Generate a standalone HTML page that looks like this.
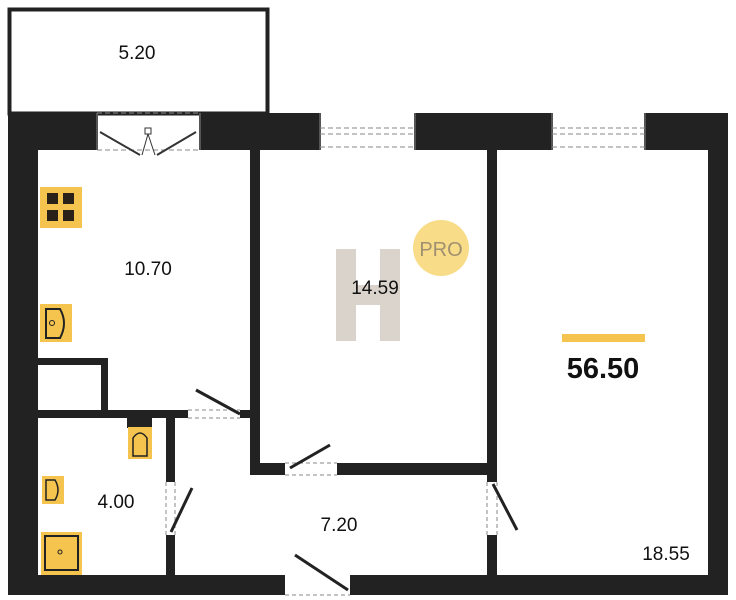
<!DOCTYPE html>
<html><head><meta charset="utf-8"><style>
html,body{margin:0;padding:0;background:#fff;width:736px;height:600px;overflow:hidden}
svg{display:block}
text{font-family:"Liberation Sans",sans-serif}
</style></head><body>
<svg width="736" height="600" viewBox="0 0 736 600" xmlns="http://www.w3.org/2000/svg">
<rect x="9.5" y="9.5" width="258" height="104" fill="none" stroke="#222" stroke-width="4"/>
<g fill="#222">
<rect x="8" y="113" width="30" height="482"/>
<rect x="8" y="113" width="89" height="37"/>
<rect x="200" y="113" width="120" height="37"/>
<rect x="415" y="113" width="137" height="37"/>
<rect x="645" y="113" width="83" height="37"/>
<rect x="708" y="113" width="20" height="482"/>
<rect x="8" y="575" width="277" height="20"/>
<rect x="350" y="575" width="378" height="20"/>
<rect x="250" y="148" width="10" height="327"/>
<rect x="250" y="463" width="35" height="12"/>
<rect x="337" y="463" width="160" height="12"/>
<rect x="487" y="148" width="10" height="334"/>
<rect x="487" y="535" width="10" height="42"/>
<rect x="38" y="358" width="70" height="7"/>
<rect x="101" y="358" width="7" height="55"/>
<rect x="38" y="410" width="150" height="8"/>
<rect x="240" y="410" width="12" height="8"/>
<rect x="166" y="418" width="9" height="64"/>
<rect x="166" y="535" width="9" height="42"/>
<rect x="127" y="418" width="25" height="10"/>
</g>
<g fill="none" stroke="#888" stroke-width="1">
<path d="M97 113V150M200 113V150M320 113V150M415 113V150M552 113V150M645 113V150" stroke="#555" stroke-width="2"/>
<path d="M97 113H200M97 150H200M320 128H415M320 134H415M552 128H645M552 134H645M320 147H415M552 147H645" stroke-dasharray="5 3"/>
<path d="M188 418H240M188 410H240M285 475H337M285 463H337M285 595H350M175 482V535M166 482V535M487 482V535M497 482V535" stroke-dasharray="4 3"/>
</g>
<g stroke="#333" stroke-width="2" fill="none">
<path d="M100 132L140 155M196 132L157 155"/>
<rect x="145" y="128" width="6" height="6" stroke-width="1"/>
<path d="M148 134L142 155M148 134L155 155" stroke-width="1"/>
</g>
<g stroke="#222" stroke-width="3">
<line x1="196" y1="390" x2="240" y2="414"/>
<line x1="290" y1="468" x2="330" y2="445"/>
<line x1="171" y1="532" x2="192" y2="488"/>
<line x1="493" y1="484" x2="517" y2="530"/>
<line x1="295" y1="555" x2="348" y2="590"/>
</g>
<rect x="40" y="187" width="42" height="41" fill="#f5c44e"/>
<g fill="#2a2118"><rect x="47" y="193" width="11" height="11"/><rect x="63" y="193" width="11" height="11"/><rect x="47" y="210" width="11" height="11"/><rect x="63" y="210" width="11" height="11"/></g>
<rect x="40" y="304" width="32" height="38" fill="#f5c44e"/>
<path d="M46 309H60Q68 323 60 338H46Z" fill="none" stroke="#222" stroke-width="2"/>
<circle cx="52" cy="323" r="2.5" fill="none" stroke="#222"/>
<rect x="128" y="427" width="24" height="32" fill="#f5c44e"/>
<path d="M133 456V438Q140 428 147 438V456Z" fill="none" stroke="#222" stroke-width="1.5"/>
<rect x="42" y="476" width="22" height="28" fill="#f5c44e"/>
<path d="M46 480H55Q61 490 55 500H46Z" fill="none" stroke="#222" stroke-width="1.5"/>
<rect x="41" y="532" width="41" height="43" fill="#f5c44e"/>
<rect x="45" y="536" width="33" height="34" fill="none" stroke="#222" stroke-width="2"/>
<circle cx="60" cy="552" r="2" fill="none" stroke="#222"/>
<g fill="#d4ccc4" opacity="0.85">
<rect x="336" y="249" width="20" height="92"/><rect x="380" y="249" width="20" height="92"/><rect x="356" y="285" width="24" height="20"/>
</g>
<circle cx="441" cy="248" r="28" fill="#f8dc88"/>
<text x="441" y="256" font-size="20" fill="#a09070" text-anchor="middle">PRO</text>
<g font-size="19" fill="#111" text-anchor="middle">
<text x="137" y="59">5.20</text>
<text x="148" y="275">10.70</text>
<text x="375" y="294">14.59</text>
<text x="116" y="508">4.00</text>
<text x="339" y="531">7.20</text>
<text x="666" y="560">18.55</text>
</g>
<rect x="562" y="334" width="83" height="8" fill="#f5c44e"/>
<text x="603" y="378" font-size="29" font-weight="bold" fill="#111" text-anchor="middle">56.50</text>
</svg>
</body></html>
